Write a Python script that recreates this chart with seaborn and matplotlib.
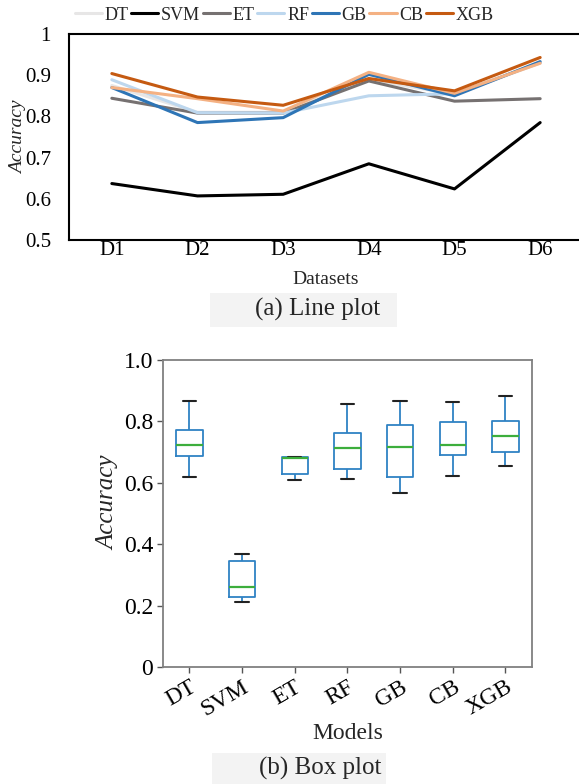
import numpy as np
import pandas as pd
import matplotlib
matplotlib.use("Agg")
import matplotlib.pyplot as plt
from matplotlib.patches import Rectangle
import seaborn as sns

# ---------------- data ----------------
datasets = ["D1", "D2", "D3", "D4", "D5", "D6"]
models = ["DT", "SVM", "ET", "RF", "GB", "CB", "XGB"]

acc_DT = [0.875, 0.810, 0.810, 0.890, 0.853, 0.930]
acc_SVM = [0.637, 0.607, 0.611, 0.685, 0.624, 0.785]
acc_ET = [0.844, 0.808, 0.808, 0.886, 0.837, 0.843]
acc_RF = [0.889, 0.809, 0.808, 0.850, 0.855, 0.930]
acc_GB = [0.870, 0.785, 0.797, 0.902, 0.850, 0.933]
acc_CB = [0.870, 0.843, 0.813, 0.907, 0.856, 0.929]
acc_XGB = [0.904, 0.847, 0.827, 0.892, 0.862, 0.943]

# box plot: [min, Q1, median, Q3, max] for each model
box_DT = [0.618, 0.687, 0.724, 0.771, 0.865]
box_SVM = [0.211, 0.228, 0.259, 0.345, 0.367]
box_ET = [0.610, 0.629, 0.680, 0.684, 0.684]
box_RF = [0.612, 0.646, 0.712, 0.762, 0.857]
box_GB = [0.568, 0.620, 0.718, 0.787, 0.865]
box_CB = [0.623, 0.690, 0.724, 0.798, 0.862]
box_XGB = [0.654, 0.701, 0.754, 0.801, 0.884]

line_colors = {"DT": "#E7E6E6", "SVM": "#000000", "ET": "#767171", "RF": "#BDD7EE",
               "GB": "#2E75B6", "CB": "#F4B183", "XGB": "#C55A11"}

line_vals = [acc_DT, acc_SVM, acc_ET, acc_RF, acc_GB, acc_CB, acc_XGB]
box_vals = [box_DT, box_SVM, box_ET, box_RF, box_GB, box_CB, box_XGB]

df_line = pd.DataFrame([(d, m, v) for m, vals in zip(models, line_vals)
                        for d, v in zip(datasets, vals)],
                       columns=["Dataset", "Model", "Accuracy"])
df_box = pd.DataFrame([(m, v) for m, vals in zip(models, box_vals) for v in vals],
                      columns=["Model", "Accuracy"])

# ---------------- style ----------------
sns.set_theme(style="white")
plt.rcParams["font.family"] = ["Liberation Serif", "DejaVu Serif"]

W, H = 579, 784
fig = plt.figure(figsize=(W / 100, H / 100), dpi=100)

def fig_rect(x0, y0, x1, y1, color):
    fig.patches.append(Rectangle((x0 / W, 1 - y1 / H), (x1 - x0) / W, (y1 - y0) / H,
                                 transform=fig.transFigure, facecolor=color,
                                 edgecolor="none", zorder=0))

# ---------------- (a) line plot ----------------
ax1 = fig.add_axes([69 / W, 1 - 240 / H, 514 / W, 206 / H])
sns.lineplot(data=df_line, x="Dataset", y="Accuracy", hue="Model",
             hue_order=models, palette=line_colors, linewidth=2.2,
             sort=False, ax=ax1)
ax1.set_xlim(-0.5, 5.5)
ax1.set_ylim(0.5, 1.0)
ax1.set_yticks([0.5, 0.6, 0.7, 0.8, 0.9, 1.0])
ax1.set_yticklabels(["0.5", "0.6", "0.7", "0.8", "0.9", "1"])
ax1.tick_params(axis="both", length=0, labelsize=15, colors="black")
ax1.tick_params(axis="y", pad=13)
ax1.tick_params(axis="x", pad=1)
for s in ["left", "bottom", "top"]:
    ax1.spines[s].set_color("black")
    ax1.spines[s].set_linewidth(1.5)
ax1.spines["right"].set_visible(False)
ax1.set_xlabel("Datasets", fontsize=14)
ax1.xaxis.set_label_coords(0.5, -0.15)
ax1.set_ylabel("Accuracy", fontsize=14, style="italic")
ax1.yaxis.set_label_coords(-0.082, 0.5)
handles, labels = ax1.get_legend_handles_labels()
ax1.get_legend().remove()
fig.legend(handles, labels, loc="center", bbox_to_anchor=(0.491, 1 - 15 / H),
           ncol=7, frameon=False, fontsize=13, handlelength=1.5,
           handletextpad=0.15, columnspacing=0.15, borderpad=0.1)
fig_rect(210, 293, 397, 327, "#f3f3f3")
fig.text(318 / W, 1 - 309 / H, "(a) Line plot", ha="center", va="center", fontsize=18)

# ---------------- (b) box plot ----------------
ax2 = fig.add_axes([163 / W, 1 - 667 / H, 368.7 / W, 307 / H])
sns.boxplot(data=df_box, x="Model", y="Accuracy", order=models, fill=False,
            color="#2f82c4", linecolor="#2f82c4", width=0.5, whis=(0, 100),
            linewidth=1.3, showfliers=False,
            medianprops={"color": "#3cae3c", "linewidth": 1.6},
            capprops={"color": "#222222", "linewidth": 1.5},
            whiskerprops={"color": "#2f82c4"},
            boxprops={"color": "#2f82c4"}, ax=ax2)
ax2.set_xlim(-0.5, 6.5)
ax2.set_ylim(0, 1.0)
ax2.set_yticks([0, 0.2, 0.4, 0.6, 0.8, 1.0])
ax2.set_yticklabels(["0", "0.2", "0.4", "0.6", "0.8", "1.0"])
ax2.tick_params(axis="both", direction="out", length=4, width=1, color="#555555",
                labelsize=17, labelcolor="black", pad=3, left=True, bottom=True)
plt.setp(ax2.get_xticklabels(), rotation=30, ha="right", rotation_mode="anchor")
for s in ax2.spines.values():
    s.set_color("#808080")
    s.set_linewidth(1.3)
ax2.set_xlabel("Models", fontsize=17, labelpad=2)
ax2.set_ylabel("Accuracy", fontsize=18, style="italic")
ax2.yaxis.set_label_coords(-0.117, 0.534)
fig_rect(212, 753, 386, 784, "#f3f3f3")
fig.text(320 / W, 1 - 768 / H, "(b) Box plot", ha="center", va="center", fontsize=18)

fig.savefig("out.png", dpi=100, facecolor="white")
